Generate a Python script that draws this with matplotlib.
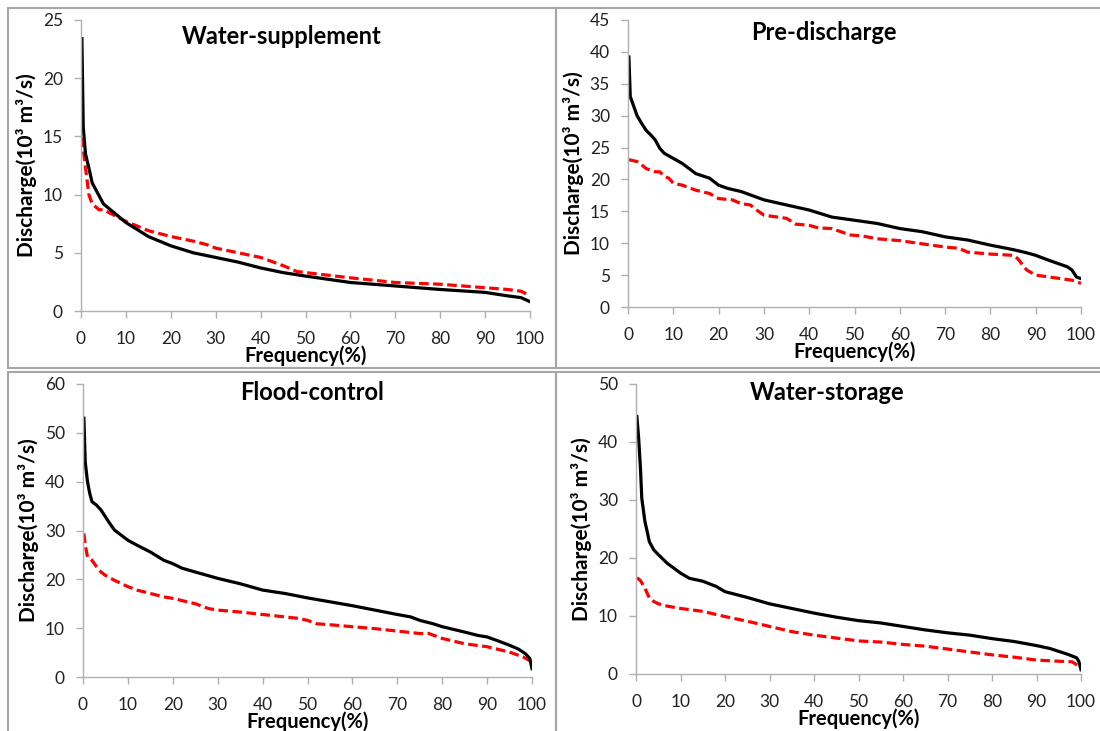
import numpy as np
import matplotlib
matplotlib.use("Agg")
import matplotlib.pyplot as plt
from matplotlib.patches import Rectangle

plt.rcParams['font.family'] = ['Lato', 'DejaVu Sans']

titles = ["Water-supplement", "Pre-discharge", "Flood-control", "Water-storage"]
y_max = [25, 45, 60, 50]
y_step = [5, 5, 10, 10]

# Water-supplement
ws_x_obs = [0.2, 0.5, 1, 1.75, 2.5, 5, 10, 15, 20, 25, 30, 35, 40, 45, 50, 60, 70, 80, 90, 95, 98, 100]
ws_y_obs = [23.4, 15.8, 13.5, 12.3, 11.0, 9.2, 7.6, 6.4, 5.6, 5.0, 4.6, 4.2, 3.7, 3.3, 3.0, 2.45, 2.15, 1.85, 1.6, 1.3, 1.15, 0.8]
ws_x_reg = [0.2, 1, 1.75, 2.5, 4, 5, 7, 10, 15, 20, 25, 28, 30, 35, 40, 45, 48, 50, 60, 70, 80, 90, 95, 98, 100]
ws_y_reg = [14.9, 12.3, 10.0, 9.2, 8.7, 8.7, 8.3, 7.7, 6.9, 6.4, 6.0, 5.7, 5.4, 5.0, 4.6, 3.9, 3.4, 3.3, 2.85, 2.45, 2.3, 2.0, 1.85, 1.7, 1.3]

# Pre-discharge
pd_x_obs = [0.2, 0.5, 1, 2, 3, 4, 5, 6, 7, 8, 10, 12, 15, 18, 20, 22, 25, 30, 35, 40, 45, 50, 55, 60, 65, 70,
            75, 80, 85, 88, 90, 93, 95, 97, 98, 99, 100]
pd_y_obs = [39.2, 33.0, 32.0, 30.0, 28.8, 27.7, 27.0, 26.2, 24.9, 24.1, 23.3, 22.5, 20.9, 20.2, 19.1, 18.6, 18.1,
            16.8, 16.0, 15.2, 14.1, 13.6, 13.1, 12.3, 11.8, 11.0, 10.5, 9.7, 9.0, 8.5, 8.1, 7.3, 6.8, 6.3, 5.8, 4.7, 4.45]
pd_x_reg = [0.2, 2, 3, 4, 6, 7, 8, 9, 10, 12, 15, 18, 20, 23, 25, 27, 28, 30, 33, 35, 37, 40, 42, 45, 47, 49, 52,
            55, 60, 65, 70, 73, 75, 80, 85, 86, 88, 90, 95, 98, 100]
pd_y_reg = [23.1, 22.8, 22.3, 21.7, 21.2, 21.2, 20.5, 20.2, 19.4, 19.1, 18.3, 17.8, 17.0, 16.8, 16.2, 16.0, 15.4,
            14.4, 14.1, 13.9, 13.0, 12.8, 12.4, 12.3, 11.8, 11.3, 11.1, 10.7, 10.4, 9.9, 9.4, 9.2, 8.6, 8.3, 8.1,
            7.6, 5.8, 5.0, 4.5, 4.2, 3.7]

# Flood-control
fc_x_obs = [0.2, 0.5, 1, 1.5, 2, 3, 4, 5, 6, 7, 8, 10, 12, 15, 18, 20, 22, 25, 30, 35, 40, 45, 50, 55, 60, 65,
            70, 73, 75, 78, 80, 85, 88, 90, 93, 95, 97, 98.5, 99.5, 100]
fc_y_obs = [53.0, 44.0, 40.0, 37.6, 35.9, 35.2, 34.2, 32.8, 31.4, 30.1, 29.4, 28.0, 27.0, 25.6, 23.9, 23.2, 22.3,
            21.5, 20.2, 19.1, 17.8, 17.1, 16.2, 15.4, 14.6, 13.7, 12.8, 12.3, 11.6, 10.9, 10.3, 9.2, 8.5, 8.2,
            7.2, 6.5, 5.7, 4.8, 3.8, 1.7]
fc_x_reg = [0.2, 0.5, 1, 2, 3, 4, 5, 7, 10, 12, 15, 18, 20, 25, 28, 30, 35, 40, 45, 48, 50, 52, 55, 60, 65, 70,
            75, 77, 80, 85, 90, 95, 98, 100]
fc_y_reg = [29.4, 27.0, 24.6, 23.9, 22.6, 21.5, 20.8, 19.8, 18.5, 17.8, 17.1, 16.4, 16.1, 15.0, 14.0, 13.7, 13.3,
            12.8, 12.3, 12.0, 11.6, 10.9, 10.7, 10.3, 9.9, 9.4, 8.9, 8.9, 7.9, 6.8, 6.2, 5.1, 4.1, 3.1]

# Water-storage
st_x_obs = [0.2, 0.6, 1, 1.3, 2, 2.5, 3, 4, 5, 7, 10, 12, 15, 18, 20, 22, 25, 30, 35, 40, 45, 50, 55, 60, 65, 70,
            75, 80, 85, 90, 93, 95, 97, 99, 99.5, 100]
st_y_obs = [44.4, 40.6, 35.5, 30.3, 26.3, 24.6, 22.8, 21.4, 20.6, 19.1, 17.4, 16.5, 16.0, 15.1, 14.2, 13.8, 13.2,
            12.1, 11.3, 10.5, 9.8, 9.2, 8.8, 8.2, 7.6, 7.1, 6.7, 6.1, 5.6, 4.9, 4.4, 3.9, 3.4, 2.8, 2.2, 0.75]
st_x_reg = [0.2, 1, 2, 3, 4, 5, 7, 10, 15, 20, 25, 30, 35, 40, 45, 50, 55, 60, 65, 70, 75, 80, 85, 90, 95, 98, 100]
st_y_reg = [16.6, 16.1, 14.8, 13.1, 12.5, 12.1, 11.7, 11.3, 10.8, 9.9, 9.1, 8.2, 7.3, 6.7, 6.2, 5.7, 5.5, 5.1,
            4.8, 4.3, 3.8, 3.3, 2.9, 2.4, 2.2, 2.1, 1.1]

series = [
    (ws_x_obs, ws_y_obs, ws_x_reg, ws_y_reg),
    (pd_x_obs, pd_y_obs, pd_x_reg, pd_y_reg),
    (fc_x_obs, fc_y_obs, fc_x_reg, fc_y_reg),
    (st_x_obs, st_y_obs, st_x_reg, st_y_reg),
]

W, H = 1100, 731
fig = plt.figure(figsize=(11, 7.31), dpi=100)

# axes boxes in pixels: left, right, top, bottom
boxes = [(81, 530, 20, 311), (628, 1081, 20, 307), (83, 532, 384, 677), (636, 1081, 384, 674)]
title_pos = [(282, 37), (824, 33), (312, 392), (827, 392)]

# panel frames
frames = [(8, 8, 556, 368), (556, 8, 1110, 368), (8, 372, 556, 740), (556, 372, 1110, 740)]
for x0, y0, x1, y1 in frames:
    fig.add_artist(Rectangle((x0 / W, 1 - y1 / H), (x1 - x0) / W, (y1 - y0) / H,
                             transform=fig.transFigure, fill=False,
                             edgecolor='#a6a6a6', linewidth=1.5))

spine_c = '#b0b0b0'
for i in range(4):
    l, r, t, b = boxes[i]
    ax = fig.add_axes([l / W, 1 - b / H, (r - l) / W, (b - t) / H])
    xo, yo, xr, yr = series[i]
    ax.plot(xr, yr, color='#ff0000', linewidth=2.3, dashes=(3, 1.4))
    ax.plot(xo, yo, color='black', linewidth=2.3)
    ax.set_xlim(0, 100)
    ax.set_ylim(0, y_max[i])
    ax.set_xticks(np.arange(0, 101, 10))
    ax.set_yticks(np.arange(0, y_max[i] + 1, y_step[i]))
    for s in ['top', 'right']:
        ax.spines[s].set_visible(False)
    for s in ['left', 'bottom']:
        ax.spines[s].set_color(spine_c)
        ax.spines[s].set_linewidth(1.0)
    ax.tick_params(direction='out', length=5, width=1.0, color=spine_c,
                   labelsize=12.5, labelcolor='#222222')
    ax.tick_params(axis='x', pad=9.5)
    ax.tick_params(axis='y', pad=8)
    ax.set_xlabel("Frequency(%)", fontsize=14.5, fontweight='bold')
    ax.set_ylabel("Discharge(10³ m³/s)", fontsize=15, fontweight='bold')
    # label offsets below / left of the axes, in pixels
    ax.xaxis.set_label_coords(0.5, -34 / (b - t))
    ax.yaxis.set_label_coords(-44 / (r - l), 0.5)
    tx, ty = title_pos[i]
    fig.text(tx / W, 1 - ty / H, titles[i], fontsize=17, fontweight='bold',
             ha='center', va='center')

fig.savefig("out.png", dpi=100)
